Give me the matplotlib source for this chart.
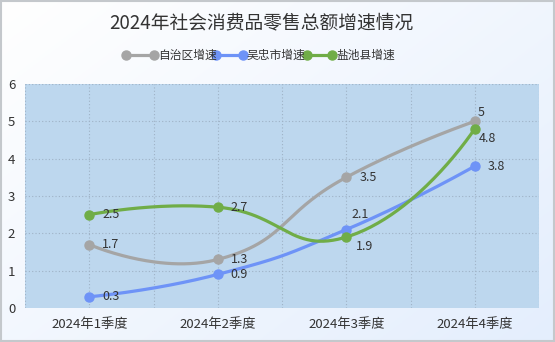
import numpy as np
import matplotlib
matplotlib.use("Agg")
import matplotlib.pyplot as plt
from matplotlib.lines import Line2D
from matplotlib.patches import Rectangle

plt.rcParams['font.family'] = ['Noto Sans CJK SC', 'DejaVu Sans']

# ---- data ----
title = "2024年社会消费品零售总额增速情况"
quarters = ["2024年1季度", "2024年2季度", "2024年3季度", "2024年4季度"]
series_names = ["自治区增速", "吴忠市增速", "盐池县增速"]
region_growth = [1.7, 1.3, 3.5, 5.0]
wuzhong_growth = [0.3, 0.9, 2.1, 3.8]
yanchi_growth = [2.5, 2.7, 1.9, 4.8]
y_ticks = [0, 1, 2, 3, 4, 5, 6]

colors = ["#a5a5a5", "#6e93f7", "#70ad47"]
values = [region_growth, wuzhong_growth, yanchi_growth]
# label offsets in pixels (dx, dy), dy positive = downwards
label_offsets = [
    [(13, 0), (13, 0), (13, 0), (3, -9)],
    [(13, 0), (13, 0), (5, -15), (13, 0)],
    [(13, 0), (13, 0), (10, 9), (4, 10)],
]

W, H = 555, 342
fig = plt.figure(figsize=(W / 100, H / 100), dpi=100)

# gradient background
bg = fig.add_axes([0, 0, 1, 1], zorder=-10)
gx, gy = np.meshgrid(np.linspace(0, 1, 200), np.linspace(0, 1, 200))
t = np.clip(0.55 * gx + 0.45 * gy, 0, 1)[..., None]
c0 = np.array([1.0, 1.0, 1.0])
c1 = np.array([0xe4, 0xee, 0xfd]) / 255
img = c0 * (1 - t) + c1 * t
bg.imshow(img, extent=[0, 1, 0, 1], aspect='auto', origin='upper')
bg.add_patch(Rectangle((0.001, 0.002), 0.997, 0.995, transform=bg.transAxes,
                       fill=False, edgecolor="#c4c8cc", linewidth=1.5))
bg.set_axis_off()

L, R, T, B = 25, 539, 84, 308
ax = fig.add_axes([L / W, 1 - B / H, (R - L) / W, (B - T) / H])
ax.set_facecolor("#bdd7ee")
for s in ax.spines.values():
    s.set_visible(False)
ax.set_xlim(-0.5, len(quarters) - 0.5)
ax.set_ylim(0, 6)
ax.set_yticks(y_ticks)
ax.set_yticklabels([str(v) for v in y_ticks])
ax.set_xticks(range(len(quarters)))
ax.set_xticklabels(quarters)
ax.tick_params(axis='both', length=0, labelsize=9.5, colors="#333333")
ax.tick_params(axis='y', pad=7)
ax.tick_params(axis='x', pad=7)

grid_kw = dict(color="#9fb2c6", linewidth=0.8, linestyle=(0, (1, 2)), zorder=1)
for v in y_ticks[1:]:
    ax.axhline(v, **grid_kw)
for v in np.arange(-0.5, len(quarters), 0.5):
    ax.axvline(v, **grid_kw)

sx = (R - L) / len(quarters)
sy = (B - T) / 6.0


def smooth_curve(xs, ys, smooth=0.5, n=60):
    pts = np.column_stack([np.asarray(xs, float) * sx, np.asarray(ys, float) * sy])
    k = len(pts)
    cps = []
    for i in range(k):
        p = pts[i]
        if i == 0 or i == k - 1:
            cps.append((p.copy(), p.copy()))
            continue
        prev, nxt = pts[i - 1], pts[i + 1]
        v = nxt - prev
        d0 = np.linalg.norm(p - prev)
        d1 = np.linalg.norm(nxt - p)
        r = d0 / (d0 + d1)
        cps.append((p - v * smooth * r, p + v * smooth * (1 - r)))
    out = []
    tt = np.linspace(0, 1, n)[:, None]
    for i in range(k - 1):
        p0, p3 = pts[i], pts[i + 1]
        c1 = cps[i][1]
        c2 = cps[i + 1][0]
        b = ((1 - tt) ** 3) * p0 + 3 * ((1 - tt) ** 2) * tt * c1 \
            + 3 * (1 - tt) * tt ** 2 * c2 + tt ** 3 * p3
        out.append(b if i == 0 else b[1:])
    out = np.vstack(out)
    return out[:, 0] / sx, out[:, 1] / sy


xs = np.arange(len(quarters))
for name, vals, col, offs in zip(series_names, values, colors, label_offsets):
    cx, cy = smooth_curve(xs, vals)
    ax.plot(cx, cy, color=col, linewidth=2.3, zorder=3, solid_capstyle='round')
    ax.plot(xs, vals, 'o', color=col, markersize=6.5, zorder=4)
    for x, v, (dx, dy) in zip(xs, vals, offs):
        txt = f"{v:g}"
        ax.annotate(txt, (x, v), xytext=(dx * 0.72, -dy * 0.72),
                    textcoords='offset points', ha='left', va='center',
                    fontsize=9, color="#333333", zorder=5)

# title
fig.text(261 / W, 1 - 23 / H, title, ha='center', va='center',
         fontsize=13.5, color="#333333")

# legend
leg_y = 1 - 55 / H
leg_items = [(126, 154, 158), (216, 243, 247), (307, 332, 336)]
for (x0, x1, tx), name, col in zip(leg_items, series_names, colors):
    fig.add_artist(Line2D([x0 / W, x1 / W], [leg_y, leg_y], transform=fig.transFigure,
                          color=col, linewidth=2.3, marker='o', markersize=6.5))
    fig.text(tx / W, leg_y, name, ha='left', va='center', fontsize=8.5, color="#333333")

fig.savefig("out.png", dpi=100)
